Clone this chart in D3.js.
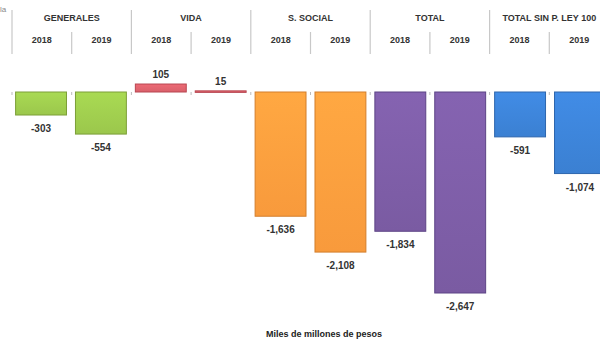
<!DOCTYPE html>
<html>
<head>
<meta charset="UTF-8" />
<script src="https://d3js.org/d3.v7.min.js"></script>
<style>
  body { margin: 0; background: #fff; }
  text { font-family: "Liberation Sans", Arial, sans-serif; }
</style>
</head>
<body>
<svg id="chart" width="600" height="340"></svg>
<script>
// data
var groups = ["GENERALES", "VIDA", "S. SOCIAL", "TOTAL", "TOTAL SIN P. LEY 100"];
var years = ["2018", "2019"];
var values = [-303, -554, 105, 15, -1636, -2108, -1834, -2647, -591, -1074];
var fills = ["#9bc74c", "#d9616b", "#f89a3c", "#7a5ba2", "#3b80d2"];
var strokes = ["#7c9f38", "#b84650", "#d37e2c", "#5d4486", "#2e66ad"];

var svg = d3.select("#chart");
var slots = d3.range(values.length);

var x = d3.scaleBand().domain(slots).range([12, 609]).paddingInner(0.15).paddingOuter(0.06);
var y = d3.scaleLinear().domain([-2647, 0]).range([293, 92]);
var fmt = d => d3.format(",")(d).replace("\u2212", "-");

// gradient per group
var defs = svg.append("defs");
fills.forEach((c, i) => {
  var g = defs.append("linearGradient").attr("id", "grad" + i)
    .attr("x1", 0).attr("x2", 0).attr("y1", 0).attr("y2", 1);
  g.append("stop").attr("offset", "0%").attr("stop-color", d3.color(c).brighter(0.25));
  g.append("stop").attr("offset", "100%").attr("stop-color", c);
});

// header separators
var gw = (609 - 12) / groups.length;
groups.forEach((gname, i) => {
  var x0 = 12 + i * gw;
  svg.append("line").attr("x1", x0).attr("x2", x0).attr("y1", 10).attr("y2", 54)
    .attr("stroke", "#c8c8c8").attr("stroke-width", 1.2);
  svg.append("line").attr("x1", x0 + gw / 2).attr("x2", x0 + gw / 2).attr("y1", 32).attr("y2", 54)
    .attr("stroke", "#c8c8c8").attr("stroke-width", 1.2);
  svg.append("text").attr("x", x0 + gw / 2).attr("y", 21)
    .attr("text-anchor", "middle").attr("font-size", 9).attr("font-weight", "bold")
    .attr("fill", "#333").text(gname);
  years.forEach((yr, j) => {
    svg.append("text").attr("x", x0 + gw / 4 + j * gw / 2).attr("y", 43)
      .attr("text-anchor", "middle").attr("font-size", 9).attr("font-weight", "bold")
      .attr("fill", "#333").text(yr);
  });
});

svg.append("text").attr("x", 0).attr("y", 12).attr("font-size", 8).attr("fill", "#888").text("la");

// small ticks on zero line
slots.concat([values.length]).forEach(i => {
  var xt = 12 + i * (609 - 12) / values.length;
  svg.append("line").attr("x1", xt).attr("x2", xt).attr("y1", y(0)).attr("y2", y(0) + 3)
    .attr("stroke", "#bbb");
});

// bars
svg.selectAll("rect.bar").data(values).join("rect")
  .attr("class", "bar")
  .attr("x", (d, i) => x(i))
  .attr("width", x.bandwidth())
  .attr("y", d => y(Math.max(0, d)))
  .attr("height", d => Math.max(1.5, Math.abs(y(d) - y(0))))
  .attr("fill", (d, i) => "url(#grad" + Math.floor(i / 2) + ")")
  .attr("stroke", (d, i) => strokes[Math.floor(i / 2)])
  .attr("stroke-width", 1);

// labels
svg.selectAll("text.val").data(values).join("text")
  .attr("class", "val")
  .attr("x", (d, i) => x(i) + x.bandwidth() / 2)
  .attr("y", d => d < 0 ? y(d) + 17 : y(d) - 6)
  .attr("text-anchor", "middle").attr("font-size", 10).attr("font-weight", "bold")
  .attr("fill", "#333")
  .text(d => fmt(d));

svg.append("text").attr("x", 324).attr("y", 337).attr("text-anchor", "middle")
  .attr("font-size", 9).attr("font-weight", "bold").attr("fill", "#222")
  .text("Miles de millones de pesos");
</script>
</body>
</html>
